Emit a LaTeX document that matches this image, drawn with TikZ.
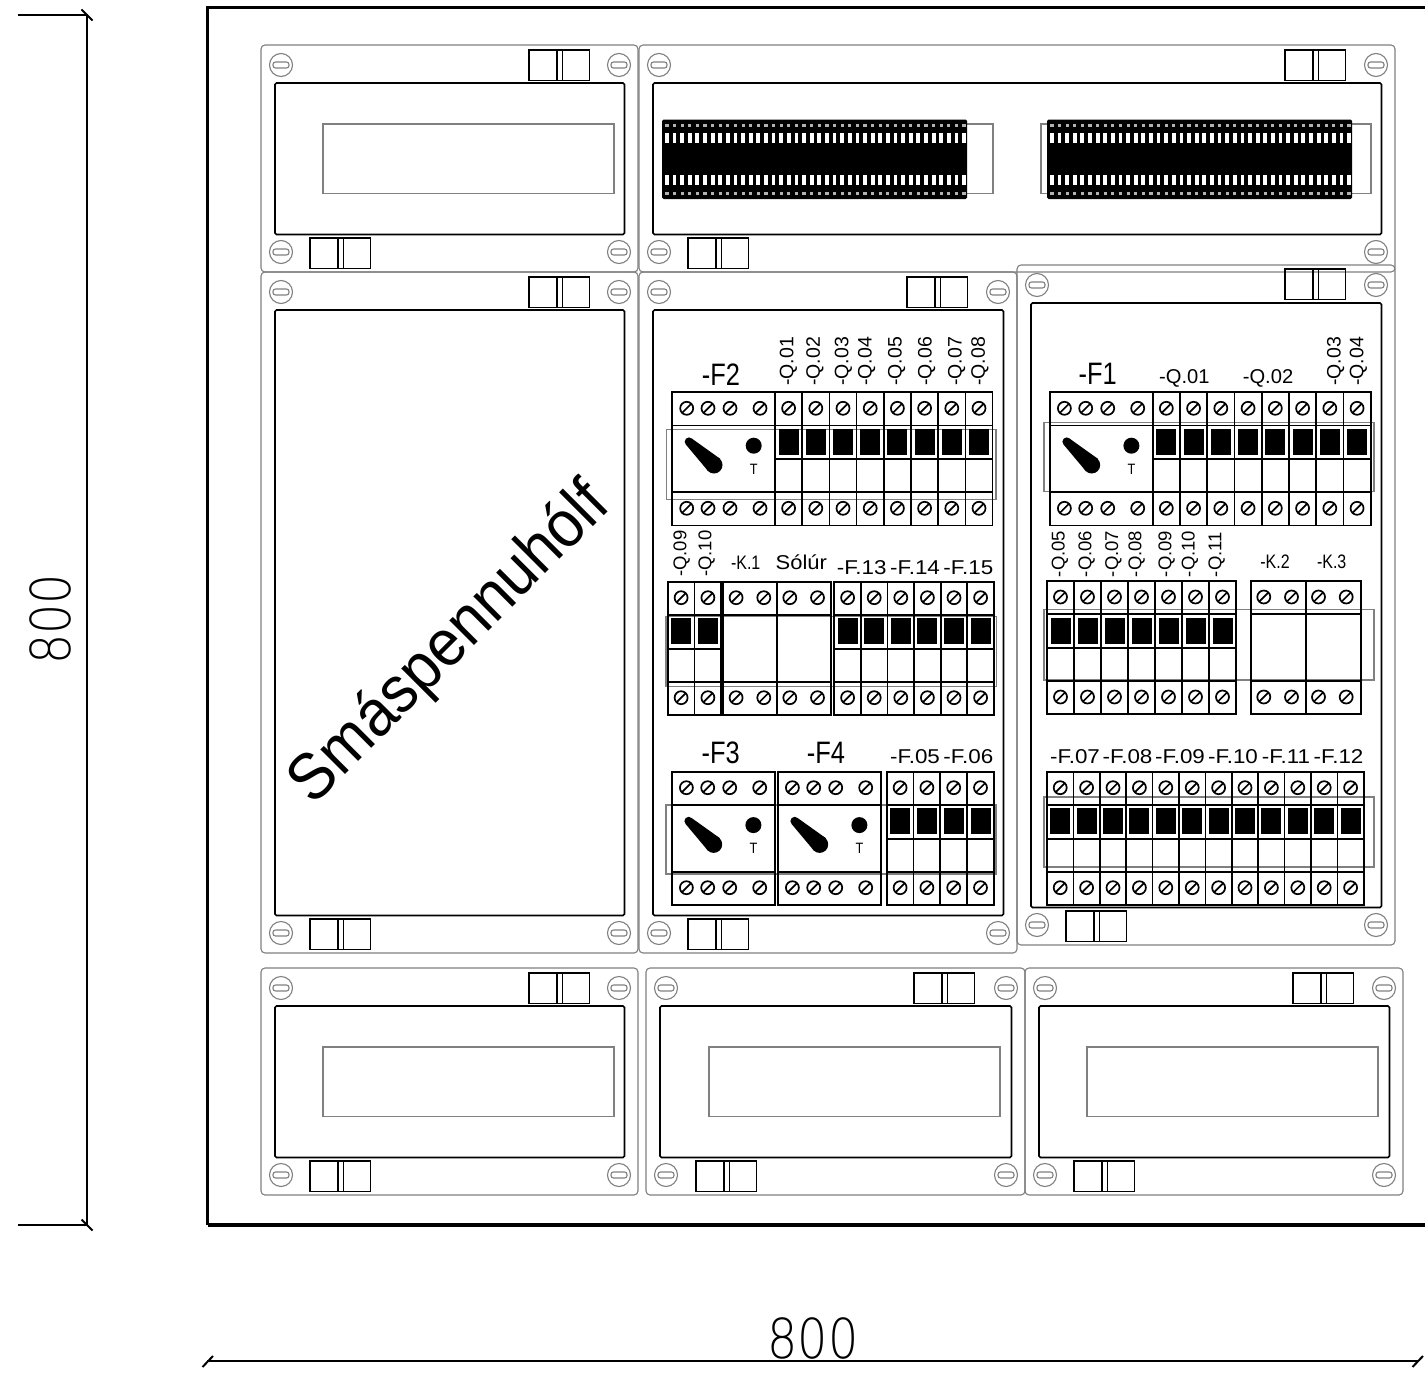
\documentclass[tikz,border=0pt]{standalone}
\usepackage{fontspec}
\setmainfont{Liberation Sans}
\newfontfamily\thinfont{DejaVu Sans ExtraLight}

\tikzset{
	graybox/.style={draw=black!50, line width=1.1pt},
	blackbox/.style={draw=black, line width=1.7pt},
	lblname/.style={inner sep=0pt, font=\fontsize{31}{31}\selectfont, xscale=.82, transform shape},
	lblmid/.style={inner sep=0pt, font=\fontsize{20}{20}\selectfont, xscale=1.12, transform shape},
	lbllow/.style={inner sep=0pt, font=\fontsize{19.5}{20}\selectfont, xscale=.82, transform shape},
	lblup/.style={inner sep=0pt, font=\fontsize{19.5}{20}\selectfont, rotate=90, anchor=west},
	lbluplow/.style={lblup, font=\fontsize{18.5}{20}\selectfont},
	lbldim/.style={inner sep=0pt, font=\thinfont\fontsize{55}{55}\selectfont, xscale=.865, transform shape},
}

% panel screw with a flat slot
\newcommand{\panelscrew}[2]{
	\draw[graybox] (#1,#2) circle (11.5);
	\draw[graybox, rounded corners=2.5] (#1-8,#2-3) rectangle (#1+8,#2+3);
}
% din latch
\newcommand{\dinlatch}[2]{
	\draw[blackbox, line width=1.6pt] (#1,#2) rectangle ++(60.5,30.5);
	\draw[blackbox, line width=1.6pt] (#1+28,#2) -- ++(0,30.5);
	\draw[blackbox, line width=1.6pt] (#1+33.5,#2) -- ++(0,30.5);
}
% terminal screw
\newcommand{\termscrew}[2]{
	\draw[line width=1.7pt] (#1,#2) circle (6.5);
	\draw[line width=1.7pt] (#1-4.6,#2+4.6) -- (#1+4.6,#2-4.6);
}
% one breaker, #3 is width
\newcommand{\breaker}[3]{
	\draw[blackbox] (#1,#2) rectangle ++(#3,133.3);
	\draw[blackbox] (#1,#2+33.3) -- ++(#3,0);
	\draw[blackbox] (#1,#2+67) -- ++(#3,0);
	\draw[blackbox] (#1,#2+100) -- ++(#3,0);
	\fill (#1+#3/2-10,#2+36.5) rectangle ++(20,26);
	\termscrew{#1+#3/2}{#2+16}
	\termscrew{#1+#3/2}{#2+116}
}
% relay, two screws top and bottom
\newcommand{\relay}[3]{
	\draw[blackbox] (#1,#2) rectangle ++(#3,133.3);
	\draw[blackbox] (#1,#2+33.3) -- ++(#3,0);
	\draw[blackbox] (#1,#2+100) -- ++(#3,0);
	\termscrew{#1+12.8}{#2+16}
	\termscrew{#1+40.5}{#2+16}
	\termscrew{#1+12.8}{#2+116}
	\termscrew{#1+40.5}{#2+116}
}
% main switch, with handle, test button and T
\newcommand{\mainswitch}[3]{
	\draw[blackbox] (#1,#2) rectangle ++(102.8,133.3);
	\draw[blackbox] (#1,#2+33.3) -- ++(102.8,0);
	\draw[blackbox] (#1,#2+100) -- ++(102.8,0);
	\foreach \dx in {14.4,35.7,57.7,87.7} {
		\termscrew{#1+\dx}{#2+16}
		\termscrew{#1+\dx}{#2+116}
	}
	\fill (#1+16.7,#2+49.4) circle (4.3);
	\fill (#1+41.7,#2+72.7) circle (8.5);
	\fill (#1+13.8,#2+52.5) -- (#1+19.6,#2+46.3) -- (#1+47.9,#2+66.5) -- (#1+35.9,#2+78.9) -- cycle;
	\fill (#1+81.4,#2+53.4) circle (8);
	\node[inner sep=0pt, font=\fontsize{15}{15}\selectfont, xscale=.85, transform shape] (#3) at (#1+81.4,#2+76.7) {T};
}
% black terminal strip in the top panel
\newcommand{\termstrip}[1]{
	\fill[rounded corners=1.5] (#1,119.5) rectangle ++(305,79.5);
	\foreach \i in {0,...,39} {
		\fill[white] (#1+3+7.62*\i,133.3) rectangle ++(3.8,9.5);
		\fill[white] (#1+3+7.62*\i,175) rectangle ++(3.8,10);
		\fill[black!30] (#1+3.3+7.62*\i,123.5) rectangle ++(3.2,3);
		\fill[black!30] (#1+3.3+7.62*\i,192) rectangle ++(3.2,3);
	}
}

\begin{document}
\begin{tikzpicture}[x=1pt, y=-1pt]
	\useasboundingbox (0,0) rectangle (1425,1381);

	% frame and dimensions
	\draw[line width=3.6pt] (207.5,1225) -- (207.5,7.5) -- (1430,7.5);
	\draw[line width=3.6pt] (207.5,1225) -- (1430,1225);
	\coordinate (dimA) at (18,15);
	\coordinate (dimB) at (87,15);
	\coordinate (dimC) at (18,1225);
	\coordinate (dimD) at (87,1225);
	\coordinate (dimE) at (207,1361);
	\coordinate (dimF) at (1418,1361);
	\draw[line width=1.5pt] (dimA) -- (dimB) -- (dimD) -- (dimC);
	\draw[line width=1.5pt] (dimE) -- (dimF);
	\draw[line width=2pt] (81.5,9.5) -- (92.5,20.5);
	\draw[line width=2pt] (81.5,1219.5) -- (92.5,1230.5);
	\draw[line width=2pt] (202.5,1367) -- (213,1356);
	\draw[line width=2pt] (1412.5,1367) -- (1423,1356);
	\node[rotate=90, lbldim] (dimLeft) at (50,619.5) {800};
	\node[lbldim] (dimBottom) at (813,1338.5) {800};

	% panels: left, top, right, bottom of panel and of inner cover
	\foreach \xa/\ya/\xb/\yb in {261/45/638/272, 639/45/1395/272, 261/272/638/953,
		639/272/1017/953, 1017/265/1395/945, 261/968/638/1195, 646/968/1025/1195, 1025/968/1403/1195} {
		\draw[graybox, rounded corners=4] (\xa,\ya) rectangle (\xb,\yb);
		\draw[blackbox, rounded corners=1.5] (\xa+14,\ya+38) rectangle (\xb-13.5,\yb-37.5);
		\panelscrew{\xa+20}{\ya+20}
		\panelscrew{\xb-19}{\ya+20}
		\panelscrew{\xa+20}{\yb-20}
		\panelscrew{\xb-19}{\yb-20}
	}
	% latches: top, then bottom
	\foreach \xa/\ya in {529/50, 310/238, 1285/50, 688/238, 529/277, 310/919, 907/277, 688/919,
		1285/269, 1066/911, 529/973, 310/1161, 914/973, 696/1161, 1293/973, 1074/1161} {
		\dinlatch{\xa}{\ya}
	}

	% gray windows
	\foreach \xa in {323, 709, 1087} {
		\draw[graybox] (\xa,1047) rectangle ++(291,69.5);
	}
	\draw[graybox] (323,124) rectangle ++(291,69.5);
	\draw[graybox] (702,124) rectangle ++(291,69.5);
	\draw[graybox] (1041,124) rectangle ++(330,69.5);
	\termstrip{662}
	\termstrip{1047}

	\node[inner sep=0pt, font=\fontsize{66}{66}\selectfont, rotate=45, xscale=.92, transform shape] (lblSmall) at (450.5,644.5) {Smáspennuhólf};

	% center panel
	\draw[graybox] (666.7,429.3) rectangle (996,499.3);
	\draw[graybox] (666,616.7) rectangle (996.7,686.7);
	\draw[graybox] (666,805) rectangle (996,874);
	\mainswitch{672.3}{392.3}{btnA}
	\foreach \i in {0,...,7} {
		\breaker{775+27.2*\i}{392.3}{27.2}
	}
	\foreach \i in {0,1} {
		\breaker{667.7+26.8*\i}{581.7}{26.8}
	}
	\relay{723.3}{581.7}{53.7}
	\relay{777}{581.7}{53.7}
	\foreach \i in {0,...,5} {
		\breaker{834.3+26.6*\i}{581.7}{26.6}
	}
	\mainswitch{672}{771.7}{btnB}
	\mainswitch{778}{771.7}{btnC}
	\foreach \i in {0,...,3} {
		\breaker{886.7+26.8*\i}{771.7}{26.8}
	}
	\node[lblname] (lblFtwo) at (721,375) {-F2};
	\node[lblname] (lblFthree) at (720.7,753) {-F3};
	\node[lblname] (lblFfour) at (826,753) {-F4};
	\foreach \xa/\txt in {788.3/01, 815/02, 843.3/03, 866.7/04, 896.7/05, 926.7/06, 956.7/07, 980/08} {
		\node[lblup] (lblQa\txt) at (\xa,386) {-Q.\txt};
	}
	\node[lbluplow] (lblQaNine) at (681.7,577) {-Q.09};
	\node[lbluplow] (lblQaTen) at (706.7,577) {-Q.10};
	\node[lbllow] (lblKone) at (745.7,563) {-K.1};
	\node[lblmid, xscale=.98] (lblSolur) at (801.3,562) {Sólúr};
	\foreach \xa/\txt in {861.7/13, 915/14, 968.3/15} {
		\node[lblmid] (lblFa\txt) at (\xa,568) {-F.\txt};
	}
	\foreach \xa/\txt in {915/05, 968.3/06} {
		\node[lblmid] (lblFa\txt) at (\xa,757) {-F.\txt};
	}

	% right panel
	\draw[graybox] (1044,422.3) rectangle (1374,491.7);
	\draw[graybox] (1044,609.3) rectangle (1374,680);
	\draw[graybox] (1044,797) rectangle (1374,867);
	\mainswitch{1050}{392.3}{btnD}
	\foreach \i in {0,...,7} {
		\breaker{1152.7+27.25*\i}{392.3}{27.25}
	}
	\foreach \i in {0,...,6} {
		\breaker{1047+27*\i}{581}{27}
	}
	\relay{1251}{581}{54.7}
	\relay{1305.7}{581}{55}
	\foreach \i in {0,...,11} {
		\breaker{1047+26.4*\i}{771.7}{26.4}
	}
	\node[lblname] (lblFone) at (1097.7,374.3) {-F1};
	\node[lblmid, xscale=.9] (lblQbOne) at (1184.3,378.3) {-Q.01};
	\node[lblmid, xscale=.9] (lblQbTwo) at (1268,378.3) {-Q.02};
	\node[lblup] (lblQbThree) at (1335.7,386) {-Q.03};
	\node[lblup] (lblQbFour) at (1358.3,386) {-Q.04};
	\foreach \xa/\txt in {1060/05, 1086.7/06, 1113.3/07, 1136.7/08, 1166.7/09, 1190/10, 1216.7/11} {
		\node[lbluplow] (lblQb\txt) at (\xa,577.3) {-Q.\txt};
	}
	\node[lbllow] (lblKtwo) at (1275,561.7) {-K.2};
	\node[lbllow] (lblKthree) at (1331.7,561.7) {-K.3};
	\foreach \xa/\txt in {1075/07, 1127.5/08, 1180/09, 1233/10, 1286/11, 1338.5/12} {
		\node[lblmid] (lblFb\txt) at (\xa,757) {-F.\txt};
	}
\end{tikzpicture}
\end{document}
